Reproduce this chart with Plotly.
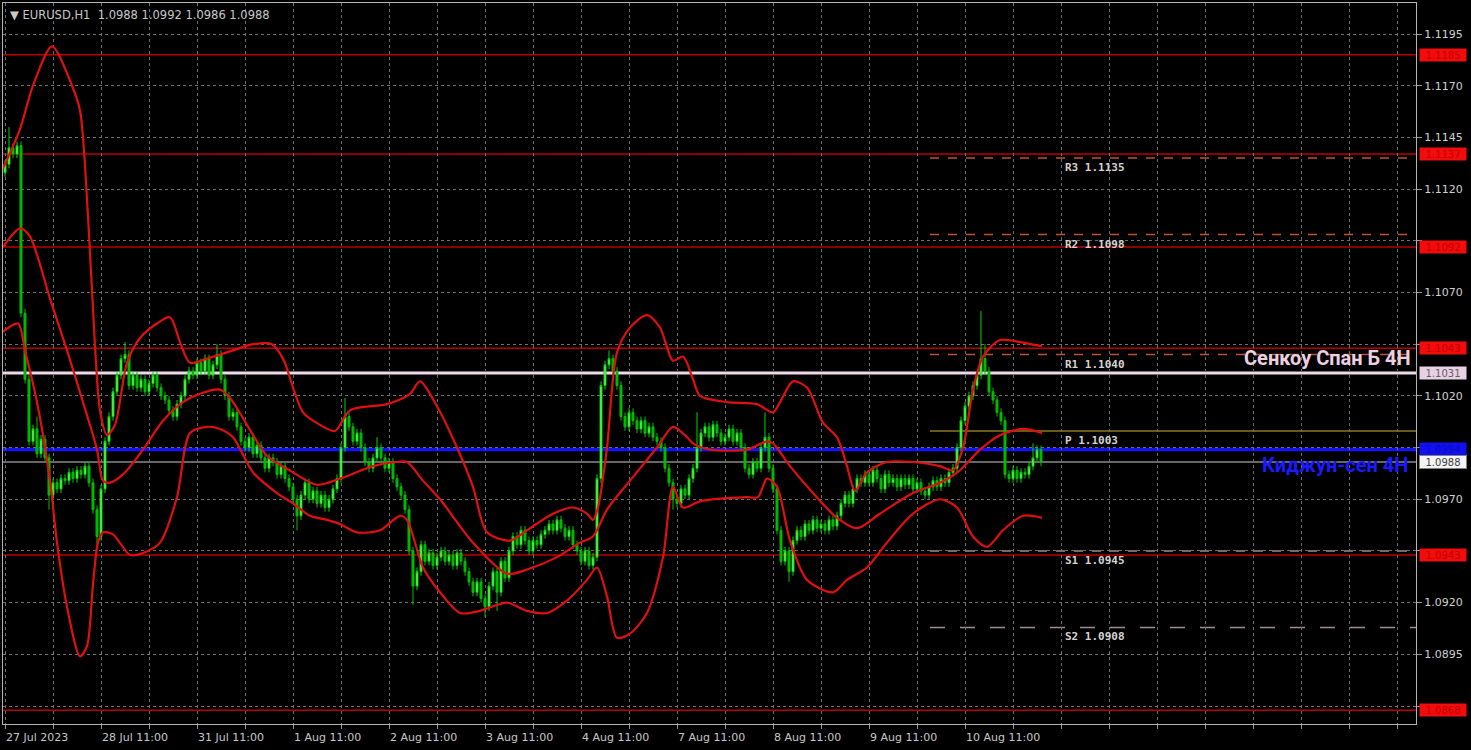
import plotly.graph_objects as go

# ---------------- data ----------------
title_text = "EURUSD,H1  1.0988 1.0992 1.0986 1.0988"

x_tick_labels = ["27 Jul 2023", "28 Jul 11:00", "31 Jul 11:00", "1 Aug 11:00", "2 Aug 11:00",
                 "3 Aug 11:00", "4 Aug 11:00", "7 Aug 11:00", "8 Aug 11:00", "9 Aug 11:00",
                 "10 Aug 11:00"]
bars_per_label = 24

y_tick_values = [1.0870, 1.0895, 1.0920, 1.0945, 1.0970, 1.0995, 1.1020, 1.1045,
                 1.1070, 1.1095, 1.1120, 1.1145, 1.1170, 1.1195]
y_ticks_hidden_by_boxes = [1.0870, 1.0945, 1.0995, 1.1045, 1.1095]

first_open = 1.1128
closes = [
    1.1132, 1.1140, 1.1137, 1.1141, 1.1060,
    1.1028, 1.0998, 1.1004, 1.0992, 1.0999,
    1.0990, 1.0972, 1.0978, 1.0975, 1.0980,
    1.0979, 1.0983, 1.0980, 1.0984, 1.0982,
    1.0986, 1.0978, 1.0965, 1.0952, 1.0975,
    1.0998, 1.1010, 1.1022, 1.1030, 1.1038,
    1.1040, 1.1025, 1.1030, 1.1024, 1.1028,
    1.1022, 1.1026, 1.1030, 1.1024, 1.1020,
    1.1018, 1.1013, 1.1010, 1.1016, 1.1020,
    1.1028, 1.1032, 1.1030, 1.1036, 1.1032,
    1.1038, 1.1030, 1.1035, 1.1040, 1.1028,
    1.1020, 1.1010, 1.1012, 1.1005, 1.0998,
    1.0995, 1.1000, 1.0992, 1.0996, 1.0990,
    1.0985, 1.0990, 1.0988, 1.0982, 1.0986,
    1.0980, 1.0976, 1.0970, 1.0962, 1.0972,
    1.0978, 1.0970, 1.0974, 1.0968, 1.0972,
    1.0966, 1.0970, 1.0975, 1.0980, 1.0995,
    1.1010, 1.1005, 1.0998, 1.1002, 1.0995,
    1.0988, 1.0985, 1.0990, 1.0995, 1.0990,
    1.0985, 1.0988, 1.0980, 1.0976, 1.0972,
    1.0965, 1.0945, 1.0928, 1.0935, 1.0948,
    1.0940, 1.0944, 1.0938, 1.0942, 1.0945,
    1.0940, 1.0943, 1.0938, 1.0944, 1.0940,
    1.0935, 1.0930, 1.0925, 1.0930, 1.0922,
    1.0918, 1.0928, 1.0935, 1.0925, 1.0940,
    1.0932, 1.0945, 1.0952, 1.0948, 1.0955,
    1.0950, 1.0945, 1.0950, 1.0948, 1.0953,
    1.0955, 1.0958, 1.0955, 1.0960, 1.0956,
    1.0952, 1.0955, 1.0948, 1.0945, 1.0940,
    1.0945, 1.0938, 1.0942, 1.0980, 1.1025,
    1.1035, 1.1038, 1.1032, 1.1025, 1.1010,
    1.1005, 1.1012, 1.1008, 1.1004, 1.1008,
    1.1002, 1.1005, 1.1000, 1.0998, 1.0995,
    1.0985, 1.0978, 1.0970, 1.0968, 1.0975,
    1.0972, 1.0980, 1.0985, 1.0995, 1.1002,
    1.1005, 1.1000, 1.1006, 1.1002, 1.0998,
    1.1000, 1.1004, 1.0998, 1.1002, 1.0995,
    1.0985, 1.0982, 1.0988, 1.0985, 1.0995,
    1.1000, 1.0985, 1.0975, 1.0955, 1.0940,
    1.0945, 1.0935, 1.0950, 1.0955, 1.0952,
    1.0958, 1.0955, 1.0960, 1.0956, 1.0958,
    1.0955, 1.0960, 1.0957, 1.0962, 1.0968,
    1.0972, 1.0968, 1.0975, 1.0980, 1.0978,
    1.0982, 1.0978, 1.0984, 1.0980, 1.0975,
    1.0982, 1.0978, 1.0980, 1.0976, 1.0980,
    1.0977, 1.0980, 1.0975, 1.0978, 1.0974,
    1.0972, 1.0976, 1.0979, 1.0976, 1.0980,
    1.0978, 1.0983, 1.0985, 1.0995, 1.1008,
    1.1015, 1.1020, 1.1025, 1.1030, 1.1038,
    1.1032, 1.1022, 1.1018, 1.1012, 1.1008,
    1.0982, 1.0980, 1.0984, 1.0980, 1.0983,
    1.0982, 1.0986, 1.0990, 1.0994, 1.0988,
]
wick = 0.0002
spike_highs = {1: 1.1150, 8: 1.1010, 30: 1.1046, 53: 1.1045, 85: 1.1019, 93: 1.1000,
               151: 1.1042, 173: 1.1012, 190: 1.1012, 244: 1.1061, 245: 1.1045, 257: 1.0997}
spike_lows = {11: 1.0965, 23: 1.0948, 73: 1.0955, 102: 1.0919, 120: 1.0913,
              123: 1.0916, 167: 1.0965, 196: 1.0930}

upper_bar = [-0.5, 3.75, 7, 11.75, 16.75, 18.75, 20.75, 22.5, 23.75, 25.5, 27.5, 30.5, 33.75, 38,
             41.25, 43.75, 46.25, 50.5, 57, 62, 66.75, 69.5, 74.5, 78.75, 82.5, 86.25, 95.5,
             101.25, 103.75, 108, 113, 117, 120.5, 126.25, 130.5, 137, 142, 145.5, 147, 148.25,
             150.5, 153, 156.25, 160.5, 163.75, 167, 169.5, 172, 173.75, 180.5, 188, 192, 193.75,
             197, 200.5, 204.5, 208, 210.5, 212.5, 215.5, 220.5, 227, 233.75, 237, 239.5, 242,
             244.5, 248.75, 253.75, 259.25]
upper_price = [1.1130, 1.1149, 1.1170, 1.1189, 1.1170, 1.1158, 1.1107, 1.1044, 1.1013, 1.1001,
               1.1006, 1.1036, 1.1048, 1.1055, 1.1058, 1.1046, 1.1036, 1.1038, 1.1042, 1.1045,
               1.1045, 1.1038, 1.1012, 1.1006, 1.1003, 1.1013, 1.1016, 1.1021, 1.1027, 1.1015,
               1.0995, 1.0976, 1.0954, 1.0950, 1.0955, 1.0963, 1.0966, 1.0963, 1.0960, 1.0966,
               1.0995, 1.1041, 1.1053, 1.1059, 1.1053, 1.1037, 1.1039, 1.1028, 1.1020, 1.1017,
               1.1016, 1.1012, 1.1017, 1.1027, 1.1024, 1.1007, 1.1000, 1.0986, 1.0974, 1.0983,
               1.0988, 1.0988, 1.0986, 1.0984, 1.0995, 1.1023, 1.1039, 1.1047, 1.1046, 1.1044]

middle_bar = [-0.5, 3.75, 6.25, 11.25, 15.5, 19.5, 23, 24.5, 26.25, 29.5, 34.5, 39.5, 44.5, 48.75,
              53.75, 56.25, 60.5, 65.5, 72, 78, 83.75, 92, 98, 100.5, 104.5, 108.75, 117, 125.5,
              130.5, 138, 143.75, 147, 150.5, 156.25, 163, 167, 170.5, 172, 176.25, 185.5, 190.5,
              192, 196.25, 202, 208, 213, 218.75, 227, 233.75, 238.75, 243.75, 248.75, 254.5,
              259.25]
middle_price = [1.1092, 1.1101, 1.1097, 1.1067, 1.1042, 1.1017, 1.0994, 1.0979, 1.0978, 1.0982,
                1.0994, 1.1008, 1.1017, 1.1021, 1.1023, 1.1019, 1.1006, 1.0991, 1.0983, 1.0977,
                1.0980, 1.0986, 1.0988, 1.0988, 1.0979, 1.0970, 1.0949, 1.0934, 1.0936, 1.0942,
                1.0949, 1.0952, 1.0965, 1.0979, 1.0995, 1.1005, 1.1000, 1.0997, 1.0994, 1.0994,
                1.0998, 1.0997, 1.0986, 1.0973, 1.0961, 1.0956, 1.0963, 1.0973, 1.0978, 1.0984,
                1.0994, 1.1001, 1.1004, 1.1002]

lower_bar = [-0.5, 3.25, 5, 8, 11.25, 13, 15.5, 18.75, 20.5, 22, 23.25, 24.5, 27, 31.25, 34.5,
             38.75, 43, 46.25, 50.5, 53.75, 57, 62, 68, 72, 76.25, 80.5, 83.75, 88, 93.75, 98.75,
             100.5, 104.5, 108.75, 113.75, 118.75, 125.5, 130.5, 135.5, 140.5, 145.5, 148, 150.5,
             153, 156.25, 160.5, 164.5, 167, 169.5, 173.75, 185.5, 188.25, 190.5, 193, 196.25,
             200.5, 207, 210.5, 215.5, 220.5, 227, 233.75, 238, 242, 245.5, 249.5, 254.5, 259.25]
lower_price = [1.1051, 1.1055, 1.1042, 1.1017, 1.0979, 1.0949, 1.0918, 1.0894, 1.0899, 1.0929,
               1.0949, 1.0954, 1.0953, 1.0943, 1.0944, 1.0949, 1.0971, 1.1002, 1.1005, 1.1004,
               1.1000, 1.0983, 1.0973, 1.0968, 1.0962, 1.0960, 1.0958, 1.0954, 1.0955, 1.0962,
               1.0960, 1.0937, 1.0925, 1.0915, 1.0916, 1.0920, 1.0916, 1.0915, 1.0921, 1.0931,
               1.0937, 1.0923, 1.0903, 1.0905, 1.0915, 1.0942, 1.0976, 1.0966, 1.0969, 1.0971,
               1.0971, 1.0980, 1.0976, 1.0950, 1.0931, 1.0925, 1.0931, 1.0937, 1.0949, 1.0963,
               1.0970, 1.0966, 1.0952, 1.0947, 1.0955, 1.0962, 1.0961]

red_levels = [1.1185, 1.1137, 1.1092, 1.1043, 1.0943, 1.0868]
senkou_b = 1.1031
kijun = 1.0994
bid_price = 1.0988

pivot_names = ["R3", "R2", "R1", "P", "S1", "S2"]
pivot_values = [1.1135, 1.1098, 1.1040, 1.1003, 1.0945, 1.0908]
pivot_start_bar = 231.25
pivot_label_bar = 264.5

x_range = [-0.5, 352.75]
y_range = [1.08613, 1.12100]

# ---------------- build figure ----------------
n = len(closes)
bars = list(range(n))
opens = [first_open] + closes[:-1]
highs = [spike_highs.get(i, max(opens[i], closes[i]) + wick) for i in range(n)]
lows = [spike_lows.get(i, min(opens[i], closes[i]) - wick) for i in range(n)]

fig = go.Figure()

fig.add_trace(go.Candlestick(
    x=bars, open=opens, high=highs, low=lows, close=closes,
    increasing=dict(line=dict(color="#00d800", width=1), fillcolor="#8cff8c"),
    decreasing=dict(line=dict(color="#00c000", width=1), fillcolor="#00b400"),
    whiskerwidth=0, showlegend=False, hoverinfo="skip"))

for bx, py in [(upper_bar, upper_price), (middle_bar, middle_price), (lower_bar, lower_price)]:
    fig.add_trace(go.Scatter(x=bx, y=py, mode="lines",
                             line=dict(color="#e01010", width=2.2, shape="spline", smoothing=0.8),
                             showlegend=False, hoverinfo="skip"))

shapes = []
for lv in red_levels:
    shapes.append(dict(type="line", xref="paper", x0=0, x1=1, yref="y", y0=lv, y1=lv,
                       line=dict(color="#b80000", width=1.5), layer="below"))
shapes.append(dict(type="line", xref="paper", x0=0, x1=1, yref="y", y0=bid_price, y1=bid_price,
                   line=dict(color="#8a8a8a", width=1.5), layer="below"))
shapes.append(dict(type="line", xref="paper", x0=0, x1=1, yref="y", y0=senkou_b, y1=senkou_b,
                   line=dict(color="#eed8ea", width=3), layer="below"))
shapes.append(dict(type="line", xref="paper", x0=0, x1=1, yref="y", y0=kijun, y1=kijun,
                   line=dict(color="#1414f0", width=3.5), layer="below"))

pivot_styles = {
    "R3": dict(color="#b8562c", width=1.5, dash="dash"),
    "R2": dict(color="#b8562c", width=1.5, dash="dash"),
    "R1": dict(color="#b8562c", width=1.5, dash="dash"),
    "P": dict(color="#8c7820", width=1.5, dash="solid"),
    "S1": dict(color="#a08c8c", width=1.5, dash="dash"),
    "S2": dict(color="#a09090", width=1.5, dash="longdash"),
}
for name, val in zip(pivot_names, pivot_values):
    shapes.append(dict(type="line", xref="x", x0=pivot_start_bar, x1=x_range[1], yref="y",
                       y0=val, y1=val, line=pivot_styles[name], layer="below"))

annotations = []
# title
annotations.append(dict(xref="paper", yref="paper", x=0, y=1, xanchor="left", yanchor="top",
                        xshift=5, yshift=-3, showarrow=False,
                        text="▼ " + title_text,
                        font=dict(family="DejaVu Sans", size=11.5, color="#c8c8c8")))
# pivot labels
for name, val in zip(pivot_names, pivot_values):
    annotations.append(dict(xref="x", yref="y", x=pivot_label_bar, y=val, xanchor="left",
                            yanchor="top", yshift=-1, showarrow=False,
                            text="<b>%s %.4f</b>" % (name, val),
                            font=dict(family="DejaVu Sans Mono", size=11, color="#d4d4d4")))
# big indicator labels
annotations.append(dict(xref="paper", yref="y", x=1, y=senkou_b, xanchor="right", yanchor="bottom",
                        xshift=-3, yshift=1, showarrow=False, text="<b>Сенкоу Спан Б 4Н</b>",
                        font=dict(family="Roboto", size=20, color="#ecd0e2")))
annotations.append(dict(xref="paper", yref="y", x=1, y=kijun, xanchor="right", yanchor="top",
                        xshift=-6, yshift=-1, showarrow=False, text="<b>Киджун-сен 4Н</b>",
                        font=dict(family="Roboto", size=20, color="#1a1aff")))
# right-side price boxes
for lv in red_levels:
    annotations.append(dict(xref="paper", yref="y", x=1, y=lv, xanchor="left", yanchor="middle",
                            xshift=3, showarrow=False, text="%.4f" % lv, width=46, height=12,
                            bgcolor="#f20c0c", borderpad=0,
                            font=dict(family="DejaVu Sans", size=10, color="#c40000")))
annotations.append(dict(xref="paper", yref="y", x=1, y=senkou_b, xanchor="left", yanchor="middle",
                        xshift=3, showarrow=False, text="%.4f" % senkou_b, width=46, height=12,
                        bgcolor="#e6d2e2", borderpad=0,
                        font=dict(family="DejaVu Sans", size=10, color="#6a5a6a")))
annotations.append(dict(xref="paper", yref="y", x=1, y=kijun, xanchor="left", yanchor="middle",
                        xshift=3, showarrow=False, text="%.4f" % kijun, width=46, height=13,
                        bgcolor="#1010f0", borderpad=0,
                        font=dict(family="DejaVu Sans", size=10, color="#0a0ac0")))
annotations.append(dict(xref="paper", yref="y", x=1, y=bid_price, xanchor="left", yanchor="middle",
                        xshift=3, showarrow=False, text="%.4f" % bid_price, width=46, height=12,
                        bgcolor="#f4f4f4", bordercolor="#808080", borderwidth=1, borderpad=0,
                        font=dict(family="DejaVu Sans", size=10, color="#404040")))
# x labels, left aligned at their tick
for k, lab in enumerate(x_tick_labels):
    annotations.append(dict(xref="x", yref="paper", x=k * bars_per_label, y=0, xanchor="left",
                            yanchor="top", xshift=-1, yshift=-5, showarrow=False, text=lab,
                            font=dict(family="DejaVu Sans", size=11, color="#c8c8c8")))

grid_ticks = list(range(0, 353, bars_per_label // 2))
y_tick_text = ["" if v in y_ticks_hidden_by_boxes else "%.4f" % v for v in y_tick_values]

fig.update_layout(
    width=1471, height=750, autosize=False,
    margin=dict(l=3, r=55, t=3, b=26, autoexpand=False),
    paper_bgcolor="#000000", plot_bgcolor="#000000",
    shapes=shapes, annotations=annotations,
    showlegend=False,
    xaxis=dict(range=x_range, tickvals=grid_ticks, ticktext=[""] * len(grid_ticks),
               showgrid=True, gridcolor="#6e6e6e", griddash="dot", gridwidth=1,
               ticks="outside", ticklen=4, tickcolor="#9a9a9a",
               showline=True, linecolor="#b4b4b4", linewidth=1, mirror=True,
               zeroline=False, rangeslider=dict(visible=False), fixedrange=True),
    yaxis=dict(range=y_range, side="right", tickvals=y_tick_values, ticktext=y_tick_text,
               tickfont=dict(family="DejaVu Sans", size=11, color="#d0d0d0"),
               showgrid=True, gridcolor="#6e6e6e", griddash="dot", gridwidth=1,
               ticks="outside", ticklen=5, tickcolor="#9a9a9a",
               showline=True, linecolor="#b4b4b4", linewidth=1, mirror=True,
               zeroline=False, fixedrange=True),
)

fig.write_html("out.html", config={"displayModeBar": False},
               post_script="document.body.style.margin='0px';document.body.style.overflow='hidden';")
